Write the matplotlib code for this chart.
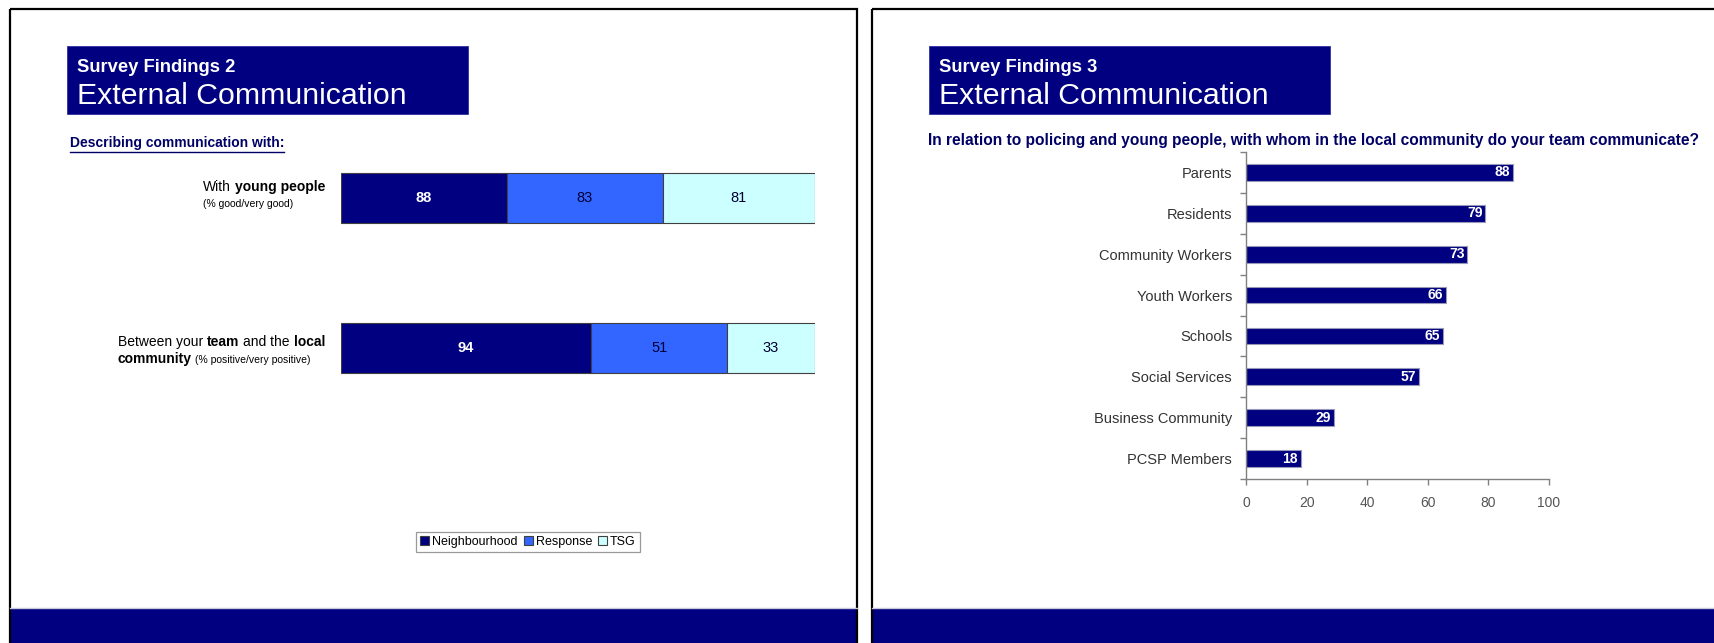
import numpy as np
import matplotlib
matplotlib.use('Agg')
import matplotlib.pyplot as plt
from matplotlib.patches import Rectangle

plt.rcParams['font.family'] = ['Liberation Sans', 'DejaVu Sans']

# ---- data: slide 2 (stacked 100% bars)
groups = ['young people', 'local community']
neighbourhood = [88, 94]
response = [83, 51]
tsg = [81, 33]
series_names = ['Neighbourhood', 'Response', 'TSG']

# ---- data: slide 3 (horizontal bars)
contacts = ['Parents', 'Residents', 'Community Workers', 'Youth Workers',
            'Schools', 'Social Services', 'Business Community', 'PCSP Members']
contact_pct = [88, 79, 73, 66, 65, 57, 29, 18]
x_ticks = [0, 20, 40, 60, 80, 100]

NAVY = '#000080'
W, H = 1715, 643

fig = plt.figure(figsize=(W / 100, H / 100), dpi=100)
bg = fig.add_axes([0, 0, 1, 1])
bg.set_xlim(0, W)
bg.set_ylim(H, 0)
bg.axis('off')
renderer = fig.canvas.get_renderer()

# slide frames, footer bands and title boxes
for x0, x1 in [(10, 857), (872, 1760)]:
    bg.add_patch(Rectangle((x0, 608), x1 - x0, 60, fc=NAVY, ec='none'))
    bg.plot([x0, x1], [607.5, 607.5], color='#c8c8dc', lw=1)
    bg.add_patch(Rectangle((x0, 9), x1 - x0, 700, fill=False, ec='black', lw=1.6))

for bx, num in [(67, 2), (929, 3)]:
    bg.add_patch(Rectangle((bx, 46), 401, 68, fc=NAVY, ec='#3030a0', lw=0.6))
    bg.text(bx + 10, 67, 'Survey Findings %d' % num, color='white', fontsize=13.2,
            fontweight='bold', va='center')
    bg.text(bx + 10, 96, 'External Communication', color='white', fontsize=21.8,
            va='center')

# subtitles
sub = bg.text(70, 143, 'Describing communication with:', fontsize=10,
              fontweight='bold', color='#000066', va='center')
sw = sub.get_window_extent(renderer).width
bg.plot([70, 70 + sw], [152, 152], color='#000066', lw=1)

bg.text(928, 140, 'In relation to policing and young people, with whom in the '
        'local community do your team communicate?', fontsize=11.2,
        fontweight='bold', color='#000066', va='center')


# row labels with mixed bold / regular text
def text_width(s, weight, size):
    t = bg.text(0, 0, s, fontsize=size, fontweight=weight)
    w = t.get_window_extent(renderer).width
    t.remove()
    return w


def rich_block(x_right, lines):
    layouts = []
    for base, parts in lines:
        x = 0
        items = []
        for s, weight, size in parts:
            gap = 0.278 * size * 100 / 72
            x += (len(s) - len(s.lstrip(' '))) * gap
            items.append((x, s.strip(' '), weight, size))
            x += text_width(s.strip(' '), weight, size)
            x += (len(s) - len(s.rstrip(' '))) * gap
        layouts.append((base, items, x))
    x0 = x_right - max(l[2] for l in layouts)
    for base, items, _ in layouts:
        for dx, s, weight, size in items:
            bg.text(x0 + dx, base, s, fontsize=size, fontweight=weight,
                    color='black', va='baseline', ha='left')


rich_block(325, [(191, [('With ', 'normal', 10), ('young people', 'bold', 10)]),
                 (207, [('(% good/very good)', 'normal', 7.5)])])
rich_block(325, [(346, [('Between your ', 'normal', 10), ('team', 'bold', 10),
                        (' and the ', 'normal', 10), ('local', 'bold', 10)]),
                 (363, [('community', 'bold', 10),
                        (' (% positive/very positive)', 'normal', 7.5)])])

# ---- slide 2 chart
ax1 = fig.add_axes([341 / W, (H - 423) / H, 474 / W, 300 / H])
stack = np.array([neighbourhood, response, tsg], dtype=float)
shares = stack / stack.sum(axis=0)
colors = [NAVY, '#3366ff', '#ccffff']
txt_colors = ['white', '#000033', '#000033']
txt_weights = ['bold', 'normal', 'normal']
ypos = np.arange(len(groups))
left = np.zeros(len(groups))
handles = []
for k in range(3):
    b = ax1.barh(ypos, shares[k], left=left, height=0.333, color=colors[k],
                 edgecolor='#404040', lw=0.8, label=series_names[k])
    handles.append(b)
    for i in range(len(groups)):
        ax1.text(left[i] + shares[k][i] / 2, ypos[i], '%d' % stack[k][i],
                 ha='center', va='center', fontsize=10.5, color=txt_colors[k],
                 fontweight=txt_weights[k])
    left += shares[k]
ax1.set_xlim(0, 1)
ax1.set_ylim(1.5, -0.5)
ax1.axis('off')

leg = fig.legend(handles, series_names, loc='center',
                 bbox_to_anchor=(528 / W, 1 - 542 / H), ncol=3, fontsize=9,
                 frameon=True, fancybox=False, edgecolor='#808080',
                 handlelength=0.7, handleheight=0.7, handletextpad=0.25,
                 columnspacing=0.5, borderpad=0.35, borderaxespad=0)
leg.get_frame().set_linewidth(0.9)

# ---- slide 3 chart
ax2 = fig.add_axes([1246 / W, (H - 479) / H, 303 / W, 327 / H])
yy = np.arange(len(contacts))
ax2.barh(yy, contact_pct, height=0.41, color=NAVY, edgecolor='#9898b8', lw=0.8)
for i, v in enumerate(contact_pct):
    ax2.annotate('%d' % v, (v, yy[i]), xytext=(-2, 0), textcoords='offset points',
                 ha='right', va='center', color='white', fontweight='bold',
                 fontsize=10)
ax2.set_xlim(0, 100)
ax2.set_ylim(len(contacts) - 0.5, -0.5)
ax2.set_xticks(x_ticks)
ax2.set_xticklabels([str(t) for t in x_ticks])
ax2.set_yticks(yy)
ax2.set_yticklabels(contacts)
ax2.set_yticks(np.arange(-0.5, len(contacts), 1), minor=True)
ax2.tick_params(axis='y', which='major', length=0, pad=10, labelsize=10.5,
                labelcolor='#333333')
ax2.tick_params(axis='y', which='minor', length=4, color='#808080', width=1)
ax2.tick_params(axis='x', length=4, color='#808080', width=1, pad=8,
                labelsize=10, labelcolor='#555555')
for s in ['top', 'right']:
    ax2.spines[s].set_visible(False)
for s in ['left', 'bottom']:
    ax2.spines[s].set_color('#808080')
    ax2.spines[s].set_linewidth(1)
ax2.set_facecolor('none')

fig.savefig('out.png', dpi=100)
